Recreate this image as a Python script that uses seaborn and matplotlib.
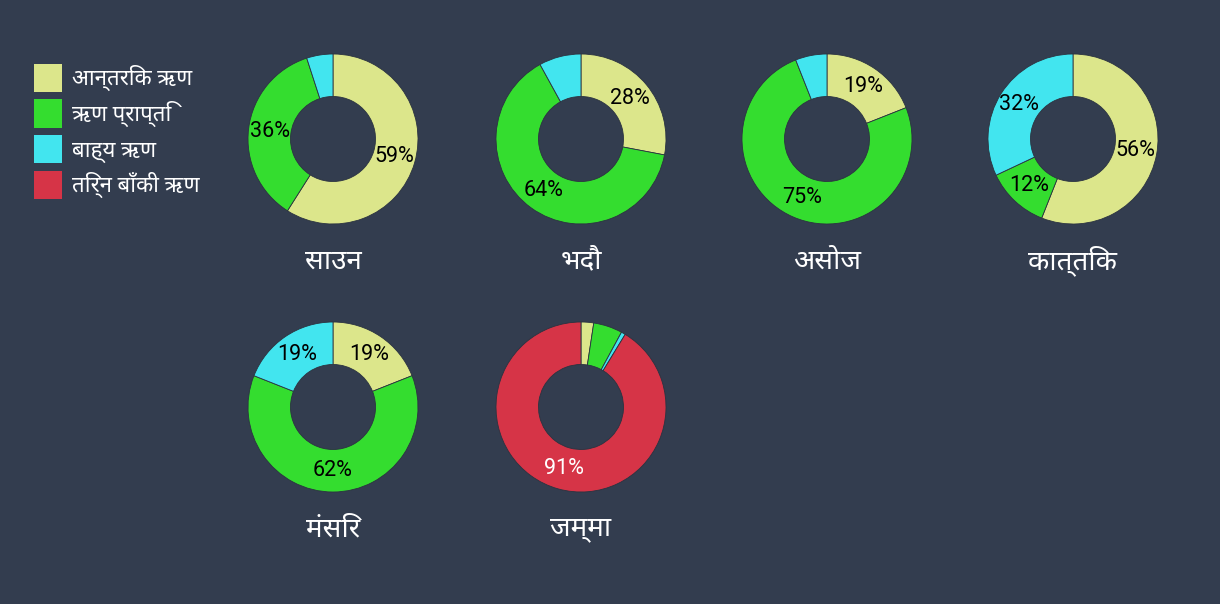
import matplotlib
matplotlib.use("Agg")
import matplotlib.pyplot as plt
import seaborn as sns
from matplotlib.patches import Patch

months = ["साउन", "भदौ", "असोज", "कात्तिक", "मंसिर", "जम्मा"]
categories = ["आन्तरिक ऋण", "ऋण प्राप्ति", "बाह्य ऋण", "तिर्न बाँकी ऋण"]
internal = [59, 28, 19, 56, 19, 2.4]
received = [36, 64, 75, 12, 62, 5.5]
external = [5, 8, 6, 32, 19, 0.8]
outstanding = [0, 0, 0, 0, 0, 91.3]

colors = ["#dce68b", "#34dd2f", "#42e5ef", "#d63447"]
bg = "#333d4f"

sns.set_theme(style="dark", rc={"figure.facecolor": bg, "axes.facecolor": bg})
plt.rcParams["font.family"] = ["Roboto", "Noto Sans", "DejaVu Sans"]

W, H = 1220, 604
fig = plt.figure(figsize=(W / 100, H / 100), dpi=100)
fig.patch.set_facecolor(bg)

centers = [(333, 139), (581, 139), (827, 139), (1073, 139), (333, 407), (581, 407)]
R = 85

for i, m in enumerate(months):
    cx, cy = centers[i]
    ax = fig.add_axes([(cx - R) / W, 1 - (cy + R) / H, 2 * R / W, 2 * R / H])
    ax.set_facecolor(bg)
    vals = [internal[i], received[i], external[i], outstanding[i]]
    pairs = [(v, c) for v, c in zip(vals, colors) if v > 0]
    v_list = [p[0] for p in pairs]
    c_list = [p[1] for p in pairs]
    wedges, texts, autotexts = ax.pie(
        v_list, colors=c_list, startangle=90, counterclock=False,
        radius=1.0, pctdistance=0.75,
        autopct=lambda p: f"{p:.0f}%" if p >= 10 else "",
        wedgeprops=dict(width=0.5, edgecolor="#2b3340", linewidth=0.6),
        textprops=dict(fontsize=15.5, color="black"),
    )
    for t, c in zip(autotexts, c_list):
        if c == "#d63447":
            t.set_color("white")
    ax.set_xlim(-1, 1)
    ax.set_ylim(-1, 1)
    ax.set_aspect("equal")
    ax.axis("off")
    fig.text(cx / W, 1 - (cy + 122) / H, m, ha="center", va="center",
             fontsize=20, color="white")

handles = [Patch(facecolor=c, edgecolor="none") for c in colors]
fs = 16
fpx = fs * 100 / 72
fig.legend(handles, categories, loc="upper left",
           bbox_to_anchor=(16 / W, 1 - 46 / H),
           frameon=False, fontsize=fs, labelcolor="white",
           handlelength=28 / fpx, handleheight=35 / fpx,
           handletextpad=10 / fpx, labelspacing=7.5 / fpx, borderpad=0.3)

fig.savefig("out.png", dpi=100, facecolor=bg)
